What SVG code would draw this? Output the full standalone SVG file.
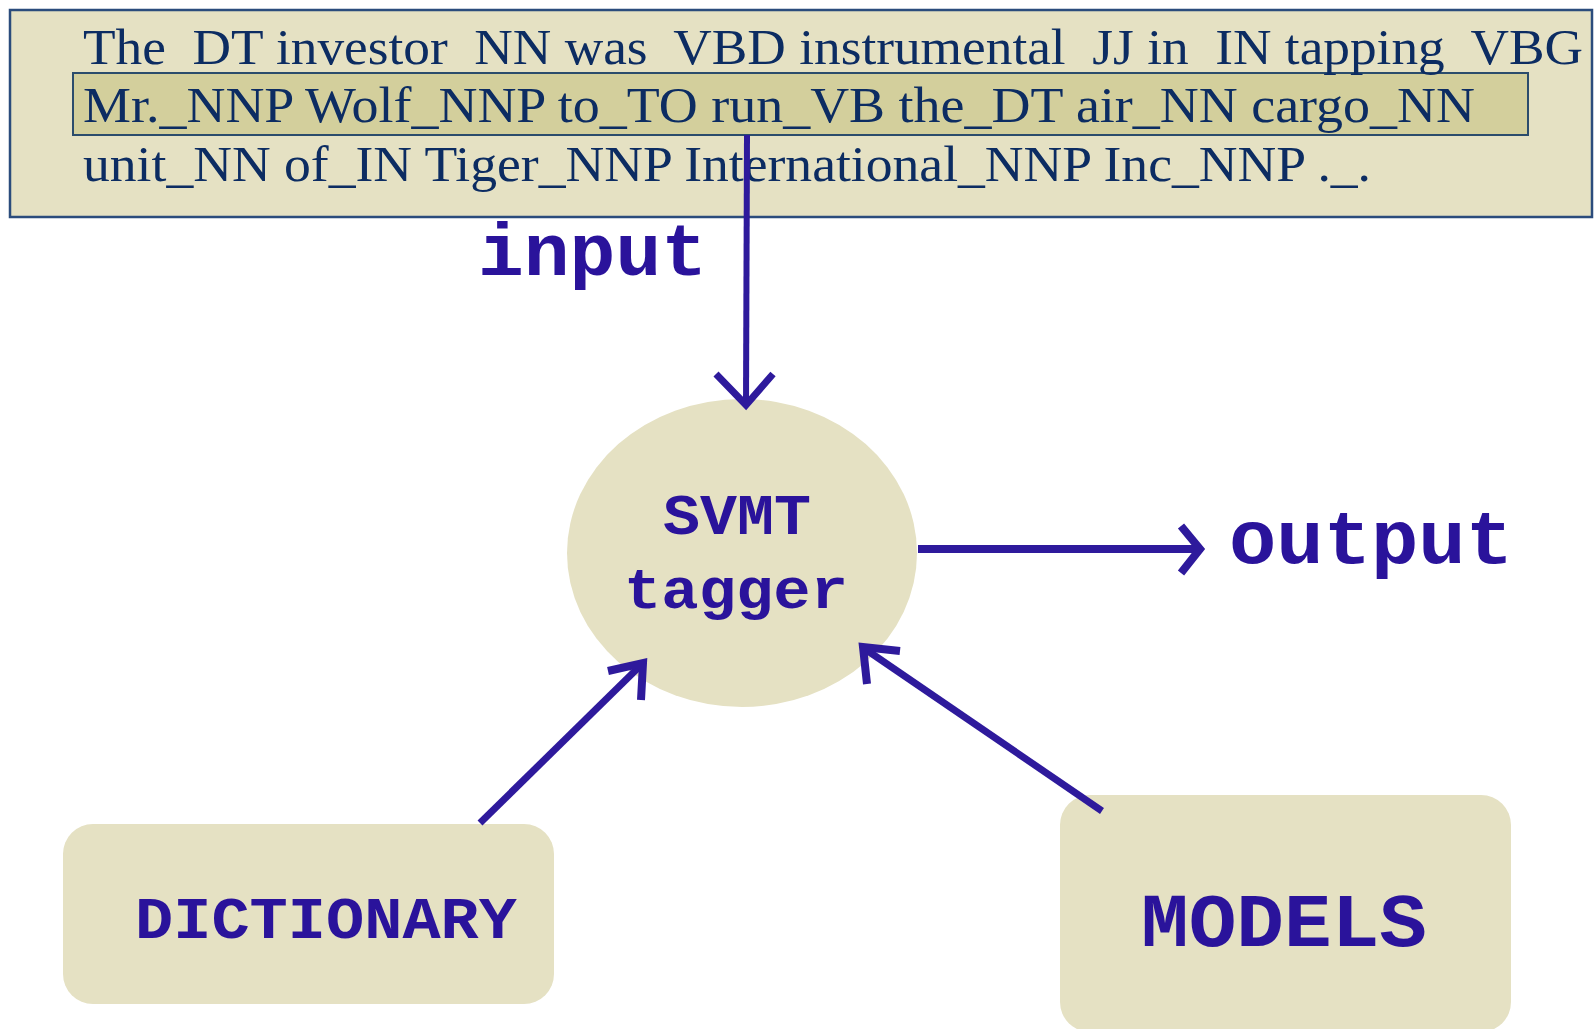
<svg xmlns="http://www.w3.org/2000/svg" width="1595" height="1029" viewBox="0 0 1595 1029">
<style>
.beige{fill:#E5E1C3}
.serif{font-family:"Liberation Serif","Times New Roman",serif;fill:#0C2C62;font-size:50px;white-space:pre}
.mono{font-family:"Liberation Mono","Courier New",monospace;font-weight:bold;fill:#2A139B}
.conn{stroke:#2E1A9C;fill:none;stroke-linecap:butt;stroke-linejoin:miter}
</style>
<rect width="1595" height="1029" fill="#FFFFFF"/>
<g id="input-text">
<rect x="10" y="10" width="1582" height="207" class="beige" stroke="#2B4C7C" stroke-width="2.5"/>
<rect x="73" y="73" width="1455" height="62" fill="#D3CF9C" stroke="#2B4C6C" stroke-width="2"/>
<text class="serif" x="83" y="64" textLength="1500" lengthAdjust="spacingAndGlyphs">The  DT investor  NN was  VBD instrumental  JJ in  IN tapping  VBG</text>
<text class="serif" x="83" y="122" textLength="1392" lengthAdjust="spacingAndGlyphs">Mr._NNP Wolf_NNP to_TO run_VB the_DT air_NN cargo_NN</text>
<text class="serif" x="83" y="181" textLength="1288" lengthAdjust="spacingAndGlyphs">unit_NN of_IN Tiger_NNP International_NNP Inc_NNP ._.</text>
</g>
<g id="tagger">
<ellipse cx="742" cy="553" rx="175" ry="154" class="beige"/>
<text class="mono" x="663" y="534" font-size="58" textLength="148" lengthAdjust="spacingAndGlyphs">SVMT</text>
<text class="mono" x="624" y="608" font-size="58" textLength="224" lengthAdjust="spacingAndGlyphs">tagger</text>
</g>
<g id="dictionary">
<rect x="63" y="824" width="491" height="180" rx="30" class="beige"/>
<text class="mono" x="135" y="938" font-size="60" textLength="382" lengthAdjust="spacingAndGlyphs">DICTIONARY</text>
</g>
<g id="models">
<rect x="1060" y="795" width="451" height="237" rx="30" class="beige"/>
<text class="mono" x="1141" y="946" font-size="76" textLength="286" lengthAdjust="spacingAndGlyphs">MODELS</text>
</g>
<g id="connectors">
<line class="conn" x1="747" y1="135" x2="746" y2="404" stroke-width="6"/>
<polyline class="conn" points="716,374 746,405 773,374" stroke-width="7"/>
<line class="conn" x1="918" y1="549" x2="1198" y2="549" stroke-width="8"/>
<polyline class="conn" points="1181,526 1200,549 1181,573" stroke-width="8"/>
<line class="conn" x1="480" y1="823" x2="641" y2="665" stroke-width="7"/>
<polyline class="conn" points="608,671 643,663 641,700" stroke-width="8"/>
<line class="conn" x1="1102" y1="811" x2="865" y2="649" stroke-width="7"/>
<polyline class="conn" points="900,651 863,647 867,684" stroke-width="8"/>
<text class="mono" x="478" y="275" font-size="74" textLength="229" lengthAdjust="spacingAndGlyphs">input</text>
<text class="mono" x="1229" y="563" font-size="76" textLength="284" lengthAdjust="spacingAndGlyphs">output</text>
</g>
</svg>
